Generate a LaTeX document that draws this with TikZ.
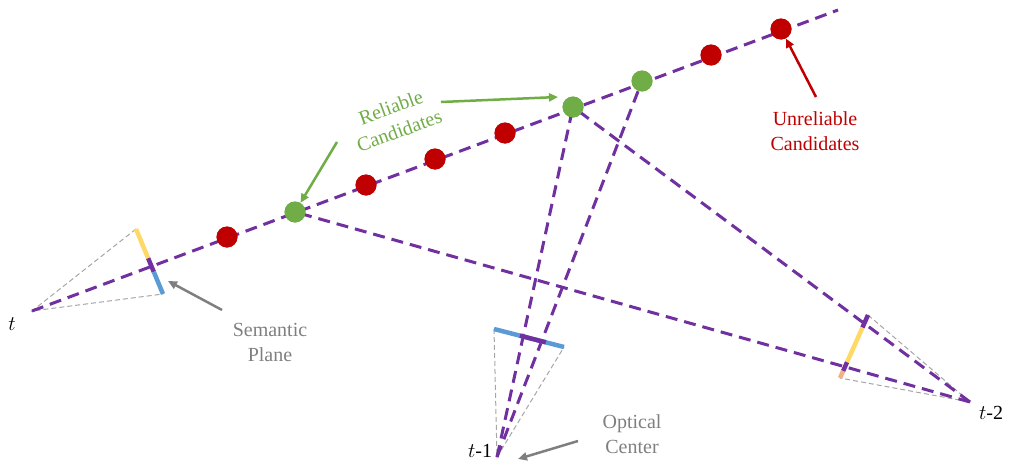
\documentclass[tikz,border=0pt]{standalone}
\usepackage{fontspec}
\setmainfont{Liberation Serif}
\usetikzlibrary{arrows.meta,calc}
\definecolor{rayPurple}{HTML}{7030A0}
\definecolor{candRed}{HTML}{C00000}
\definecolor{candGreen}{HTML}{70AD47}
\definecolor{planeYellow}{HTML}{FFD966}
\definecolor{planeBlue}{HTML}{5B9BD5}
\definecolor{planeOrange}{HTML}{F4B183}
\definecolor{noteGrey}{HTML}{7F7F7F}
\tikzset{
  ray/.style={draw=rayPurple, line width=3pt, dash pattern=on 12pt off 7pt},
  frustum/.style={draw=black!35, line width=1pt, dash pattern=on 5pt off 3pt},
  plane/.style={line width=4.5pt},
  reliable/.style={circle, fill=candGreen, minimum size=21pt, inner sep=0pt},
  unreliable/.style={circle, fill=candRed, minimum size=21pt, inner sep=0pt},
  pointer/.style={-{Triangle[length=9pt,width=8pt]}, line width=2.5pt},
  note/.style={font=\rmfamily\fontsize{20}{25}\selectfont, align=center},
  camlabel/.style={font=\rmfamily\fontsize{20}{24}\selectfont}
}
\begin{document}
\begin{tikzpicture}[x=1pt,y=-1pt]
  \useasboundingbox (0,0) rectangle (1012,463);

  % optical centers
  \coordinate (camT) at (32,311);
  \coordinate (camA) at (497,457);
  \coordinate (camB) at (970,402);
  \coordinate (rayEnd) at (838,10);

  % semantic plane end points
  \coordinate (pT1) at (136,229);
  \coordinate (pT2) at (163,294);
  \coordinate (pA1) at (494,329);
  \coordinate (pA2) at (564,347);
  \coordinate (pB1) at (868,315);
  \coordinate (pB2) at (840,378);

  % candidates along the ray of t
  \node[unreliable] (c1) at (227,237) {};
  \node[reliable]   (c2) at (295,212) {};
  \node[unreliable] (c3) at (366,185) {};
  \node[unreliable] (c4) at (435,159) {};
  \node[unreliable] (c5) at (505,133) {};
  \node[reliable]   (c6) at (573,107) {};
  \node[reliable]   (c7) at (642,81) {};
  \node[unreliable] (c8) at (711,55) {};
  \node[unreliable] (c9) at (781,29) {};

  % viewing frustums
  \draw[frustum] (pT1) -- (camT) -- (pT2);
  \draw[frustum] (pA1) -- (camA) -- (pA2);
  \draw[frustum] (pB1) -- (camB) -- (pB2);

  % rays
  \draw[ray] (camT) -- (rayEnd);
  \draw[ray] (camA) -- (c6.center);
  \draw[ray] (camA) -- (c7.center);
  \draw[ray] (camB) -- (c6.center);
  \draw[ray] (camB) -- (c2.center);

  % semantic planes
  \draw[plane, planeYellow] (pT1) -- ($(pT1)!0.45!(pT2)$);
  \draw[plane, rayPurple] ($(pT1)!0.45!(pT2)$) -- ($(pT1)!0.66!(pT2)$);
  \draw[plane, planeBlue] ($(pT1)!0.66!(pT2)$) -- (pT2);

  \draw[plane, planeBlue] (pA1) -- (pA2);
  \draw[plane, rayPurple] ($(pA1)!0.37!(pA2)$) -- ($(pA1)!0.74!(pA2)$);

  \draw[plane, rayPurple] (pB1) -- ($(pB1)!0.2!(pB2)$);
  \draw[plane, planeYellow] ($(pB1)!0.2!(pB2)$) -- ($(pB1)!0.75!(pB2)$);
  \draw[plane, rayPurple] ($(pB1)!0.75!(pB2)$) -- ($(pB1)!0.89!(pB2)$);
  \draw[plane, planeOrange] ($(pB1)!0.89!(pB2)$) -- (pB2);

  % redraw candidates on top
  \foreach \c/\s in {c1/unreliable,c2/reliable,c3/unreliable,c4/unreliable,c5/unreliable,c6/reliable,c7/reliable,c8/unreliable,c9/unreliable}
    \node[\s] at (\c) {};

  % camera labels
  \node[camlabel] (labT) at (12,324) {$t$};
  \node[camlabel] (labA) at (480,451) {$t$-1};
  \node[camlabel] (labB) at (991,413) {$t$-2};

  % annotations
  \node[note, text=candGreen, rotate=20] (relNote) at (395,119) {Reliable\\Candidates};
  \node[note, text=candRed] (unrelNote) at (815,131) {Unreliable\\Candidates};
  \node[note, text=noteGrey] (semNote) at (270,342) {Semantic\\Plane};
  \node[note, text=noteGrey] (optNote) at (632,434) {Optical\\Center};

  \coordinate (relTail1) at (337,142);
  \coordinate (relTail2) at (441,102);
  \coordinate (unrelTail) at (816,97);
  \coordinate (semTail) at (222,310);
  \coordinate (optTail) at (578,441);

  \draw[pointer, candGreen] (relTail1) -- (c2);
  \draw[pointer, candGreen] (relTail2) -- ($(c6)+(-15,-10)$);
  \draw[pointer, candRed] (unrelTail) -- (c9);
  \draw[pointer, noteGrey] (semTail) -- ($(pT2)+(5,-13)$);
  \draw[pointer, noteGrey] (optTail) -- ($(camA)+(21,2)$);
\end{tikzpicture}
\end{document}
